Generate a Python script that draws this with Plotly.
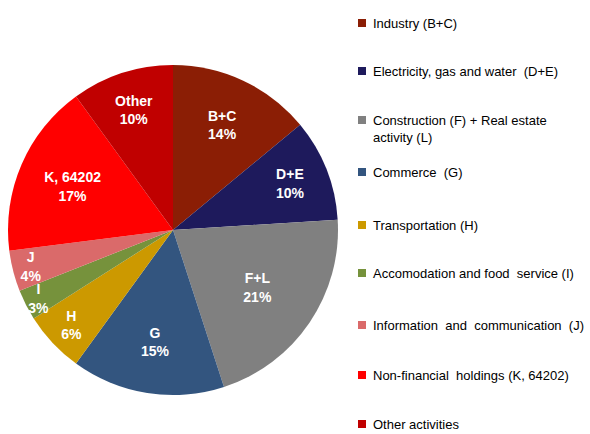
import plotly.graph_objects as go

short_labels = ["B+C", "D+E", "F+L", "G", "H", "I", "J", "K, 64202", "Other"]
legend_labels = [
    "Industry (B+C)",
    "Electricity, gas and water  (D+E)",
    "Construction (F) + Real estate<br>activity (L)",
    "Commerce  (G)",
    "Transportation (H)",
    "Accomodation and food  service (I)",
    "Information  and  communication  (J)",
    "Non-financial  holdings (K, 64202)",
    "Other activities",
]
shares = [14, 10, 21, 15, 6, 3, 4, 17, 10]
colors = ["#8B1E05", "#1E1A5C", "#808080", "#33557F", "#CC9900",
          "#76923C", "#DA6A6A", "#FF0000", "#C00000"]

W, H = 590, 434

fig = go.Figure()
fig.add_trace(go.Pie(
    labels=short_labels,
    values=shares,
    sort=False,
    direction="clockwise",
    rotation=0,
    marker=dict(colors=colors, line=dict(width=0)),
    texttemplate="<b>%{label}</b><br><b>%{percent:.0%}</b>",
    textposition="inside",
    insidetextorientation="horizontal",
    textfont=dict(family="Liberation Sans, Arial", size=14, color="white"),
    domain=dict(x=[8 / W, 338 / W], y=[(H - 396) / H, (H - 64) / H]),
    showlegend=False,
    hoverinfo="label+percent",
))

legend_centers = [23, 71, 120, 172, 225, 273, 325, 375, 424]
shapes = []
annotations = []
for lab, col, yc in zip(legend_labels, colors, legend_centers):
    shapes.append(dict(type="rect", xref="paper", yref="paper",
                       x0=358 / W, x1=366 / W,
                       y0=(H - yc - 4) / H, y1=(H - yc + 4) / H,
                       fillcolor=col, line=dict(width=0)))
    annotations.append(dict(xref="paper", yref="paper", x=371 / W, y=(H - yc + 9) / H,
                            xanchor="left", yanchor="top", align="left",
                            text=lab, showarrow=False,
                            font=dict(family="Liberation Sans, Arial", size=13, color="#000000")))

fig.update_layout(
    width=W, height=H,
    margin=dict(l=0, r=0, t=0, b=0),
    paper_bgcolor="white",
    plot_bgcolor="white",
    uniformtext=dict(minsize=13, mode="show"),
    shapes=shapes,
    annotations=annotations,
)

fig.write_html("out.html",
               config={"displayModeBar": False},
               post_script="document.body.style.margin='0';document.body.style.overflow='hidden';")
